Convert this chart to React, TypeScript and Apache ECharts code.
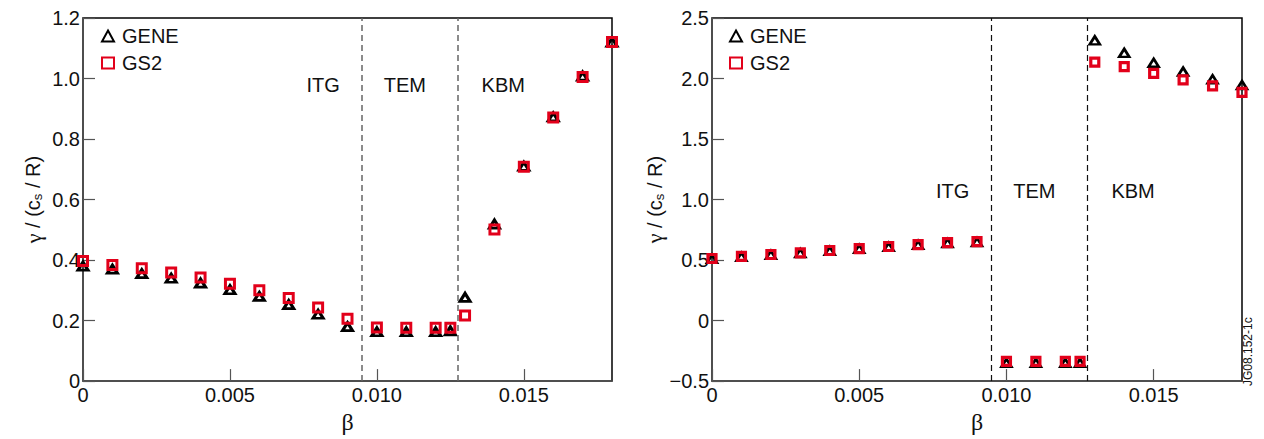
import React, { useEffect, useRef } from 'react';
import * as echarts from 'echarts';

const beta = [0, 0.001, 0.002, 0.003, 0.004, 0.005, 0.006, 0.007, 0.008, 0.009, 0.010, 0.011, 0.012, 0.0125, 0.013, 0.014, 0.015, 0.016, 0.017, 0.018];

const geneLeft = [0.38, 0.37, 0.355, 0.34, 0.324, 0.302, 0.28, 0.253, 0.221, 0.18, 0.163, 0.163, 0.163, 0.166, 0.277, 0.519, 0.71, 0.873, 1.008, 1.12];
const gs2Left = [0.397, 0.384, 0.373, 0.359, 0.342, 0.322, 0.3, 0.275, 0.243, 0.206, 0.177, 0.176, 0.176, 0.176, 0.217, 0.501, 0.708, 0.871, 1.005, 1.121];

const geneRight = [0.51, 0.527, 0.543, 0.557, 0.576, 0.592, 0.609, 0.625, 0.641, 0.649, -0.35, -0.35, -0.35, -0.35, 2.315, 2.212, 2.13, 2.057, 1.994, 1.946];
const gs2Right = [0.513, 0.53, 0.546, 0.56, 0.579, 0.595, 0.612, 0.628, 0.644, 0.652, -0.337, -0.337, -0.337, -0.337, 2.136, 2.098, 2.043, 1.989, 1.94, 1.886];

const boundaries = [0.0095, 0.01275];
const regionNames = ['ITG', 'TEM', 'KBM'];
const regionX = [0.00817, 0.01095, 0.0143];
const regionYLeft = 0.978;
const regionYRight = 1.073;

const seriesNames = ['GENE', 'GS2'];

const FONT = 'Liberation Sans, Arial, sans-serif';
const RED = '#e2001a';
const TEXT = '#111';

function pairs(ys: number[]) {
  return beta.map((b, i) => [b, ys[i]]);
}

export default function App() {
  const ref = useRef<HTMLDivElement>(null);
  useEffect(() => {
    document.body.style.margin = '0';
    const chart = echarts.init(ref.current!, null, { renderer: 'svg' });

    const grids = [
      { left: 83, top: 18, width: 529, height: 368 },
      { left: 712, top: 18, width: 530, height: 368 },
    ].map((g) => ({ ...g, show: true, borderColor: '#000', borderWidth: 1.5, backgroundColor: 'transparent' }));

    const xAxisBase = (gi: number) => ({
      type: 'value',
      gridIndex: gi,
      min: 0,
      max: 0.018,
      interval: 0.005,
      name: 'β',
      nameLocation: 'middle',
      nameGap: 26,
      nameTextStyle: { fontFamily: 'Liberation Serif, serif', fontSize: 24, color: TEXT },
      axisLine: { show: true, onZero: false, lineStyle: { color: '#555', width: 1.5 } },
      axisTick: { show: true, inside: true, length: 12, lineStyle: { color: '#555', width: 1.2 } },
      axisLabel: {
        fontFamily: FONT,
        fontSize: 20,
        color: TEXT,
        margin: 4,
        showMaxLabel: false,
        formatter: (v: number) => (v === 0 ? '0' : v.toFixed(3)),
      },
      splitLine: { show: false },
    });

    const yName = '{g|γ} / (c{s|s} / R)';
    const yAxisBase = (gi: number, min: number, max: number, interval: number) => ({
      type: 'value',
      gridIndex: gi,
      min,
      max,
      interval,
      name: yName,
      nameLocation: 'middle',
      nameGap: 39,
      nameTextStyle: {
        fontFamily: FONT,
        fontSize: 20,
        color: TEXT,
        rich: {
          g: { fontFamily: 'Liberation Serif, serif', fontSize: 22, color: TEXT },
          s: { fontFamily: FONT, fontSize: 13, color: TEXT, padding: [9, 0, 0, 0] },
        },
      },
      axisLine: { show: true, onZero: false, lineStyle: { color: '#555', width: 1.5 } },
      axisTick: { show: true, inside: true, length: 12, lineStyle: { color: '#555', width: 1.2 } },
      axisLabel: {
        fontFamily: FONT,
        fontSize: 20,
        color: TEXT,
        margin: 3,
        formatter: (v: number) => {
          if (Math.abs(v) < 1e-9) return '0';
          const s = Math.abs(v).toFixed(1);
          return v < 0 ? '−' + s : s;
        },
      },
      splitLine: { show: false },
    });

    const mkSeries = (
      gi: number,
      gene: number[],
      gs2: number[],
      dashColor: string,
      dashWidth: number,
      regionY: number,
      triSize: number[],
      triBorder: number,
      sqSize: number,
      sqBorder: number
    ) => [
      {
        name: seriesNames[0],
        type: 'scatter',
        xAxisIndex: gi,
        yAxisIndex: gi,
        data: pairs(gene),
        symbol: 'triangle',
        symbolSize: triSize,
        itemStyle: { color: 'rgba(255,255,255,0)', borderColor: '#000', borderWidth: triBorder, opacity: 1 },
        clip: false,
        z: 3,
        markLine: {
          silent: true,
          symbol: 'none',
          precision: 6,
          label: { show: false },
          lineStyle: { type: [6, 4], color: dashColor, width: dashWidth, opacity: 1 },
          data: boundaries.map((b) => ({ xAxis: b })),
        },
      },
      {
        name: seriesNames[1],
        type: 'scatter',
        xAxisIndex: gi,
        yAxisIndex: gi,
        data: pairs(gs2),
        symbol: 'rect',
        symbolSize: sqSize,
        itemStyle: { color: 'rgba(255,255,255,0)', borderColor: RED, borderWidth: sqBorder, opacity: 1 },
        clip: false,
        z: 4,
      },
      {
        name: 'regions' + gi,
        type: 'scatter',
        xAxisIndex: gi,
        yAxisIndex: gi,
        symbolSize: 0,
        silent: true,
        itemStyle: { opacity: 1 },
        data: regionNames.map((n, i) => ({ name: n, value: [regionX[i], regionY] })),
        label: {
          show: true,
          position: 'inside',
          formatter: '{b}',
          fontFamily: FONT,
          fontSize: 20,
          color: TEXT,
          textBorderWidth: 0,
        },
      },
    ];

    const legendBase = (left: number) => ({
      data: seriesNames,
      left,
      top: 26,
      padding: 0,
      orient: 'vertical',
      itemWidth: 12,
      itemHeight: 11,
      itemGap: 7,
      textStyle: { fontFamily: FONT, fontSize: 20, color: TEXT, padding: [0, 0, 0, 3] },
      selectedMode: false,
    });

    chart.setOption({
      animation: false,
      backgroundColor: '#fff',
      grid: grids,
      legend: [legendBase(101), legendBase(729)],
      xAxis: [xAxisBase(0), xAxisBase(1)],
      yAxis: [yAxisBase(0, 0, 1.2, 0.2), yAxisBase(1, -0.5, 2.5, 0.5)],
      series: [
        ...mkSeries(0, geneLeft, gs2Left, '#666', 1.5, regionYLeft, [10, 8], 3, 9, 3),
        ...mkSeries(1, geneRight, gs2Right, '#111', 1.2, regionYRight, [10, 8], 2.6, 8, 3.2),
      ],
      graphic: [
        {
          type: 'text',
          x: 1254,
          y: 386,
          rotation: Math.PI / 2,
          style: {
            text: 'JG08.152-1c',
            fontFamily: FONT,
            fontSize: 12,
            fill: TEXT,
            align: 'left',
            verticalAlign: 'bottom',
          },
        },
      ],
    });
    return () => chart.dispose();
  }, []);
  return <div ref={ref} style={{ width: 1264, height: 439 }} />;
}
